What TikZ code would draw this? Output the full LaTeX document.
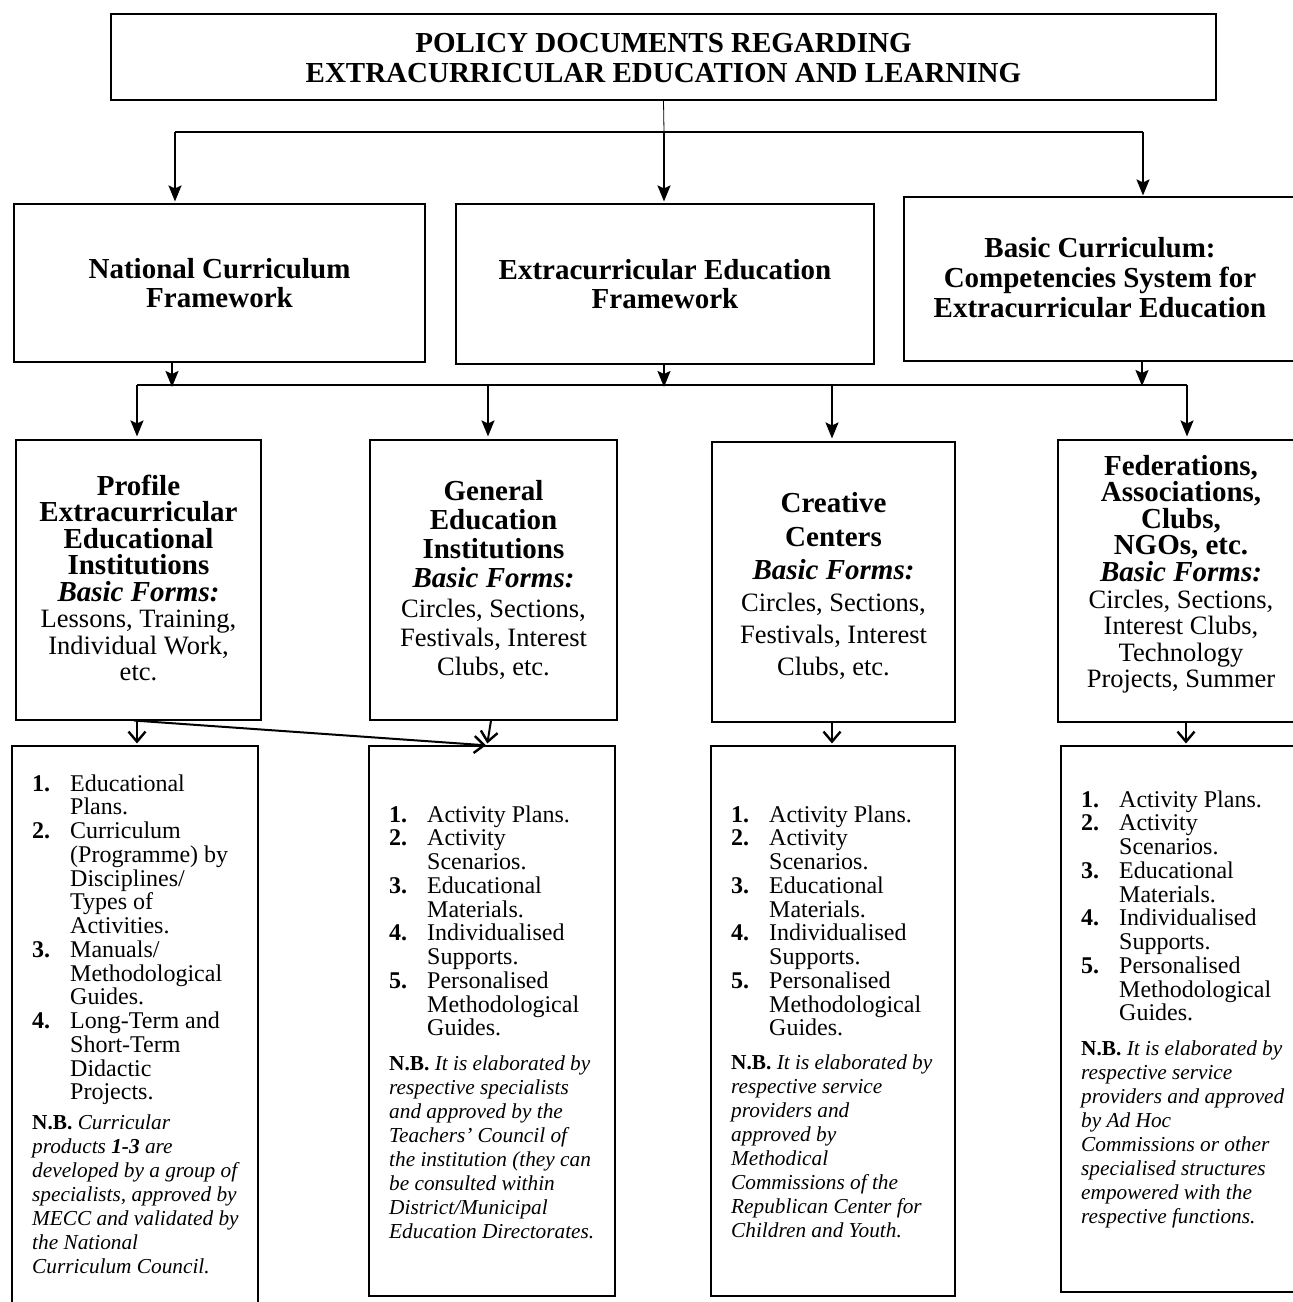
\documentclass[tikz,border=0pt]{standalone}
\usepackage{fontspec}
\setmainfont{Liberation Serif}
\usetikzlibrary{arrows.meta,calc}

% stacked lines: #1 baselineskip, #2 row font, #3 rows separated by \cr
\newcommand\LinesC[3]{\vtop{\baselineskip=#1\lineskiplimit=-1000pt\lineskip=0pt\halign{\hfil#2##\hfil\cr#3\crcr}}}
\newcommand\LinesL[3]{\vtop{\baselineskip=#1\lineskiplimit=-1000pt\lineskip=0pt\halign{#2##\hfil\cr#3\crcr}}}
\newcommand\fontHead{\fontsize{29}{29}\selectfont\bfseries}
\newcommand\fontBody{\fontsize{26.5}{26.5}\selectfont}
\newcommand\fontList{\fontsize{24}{24}\selectfont}
\newcommand\fontNote{\fontsize{21.3}{24}\selectfont\itshape}
\newcommand\itemnum[1]{\makebox[38pt][l]{\bfseries #1}}
\newcommand\itemind{\hskip38pt\relax}
\newcommand\nbmark{{\upshape\bfseries N.B.}}

\begin{document}
\begin{tikzpicture}[x=1pt,y=-1pt,
  boxst/.style={draw, line width=1.1pt, inner sep=0pt, rectangle},
  txt/.style={inner sep=0pt, anchor=base},
  txtl/.style={inner sep=0pt, anchor=base west},
  thinline/.style={line width=0.8pt},
  conn/.style={line width=1.9pt},
  arr/.style={line width=1.9pt, -{Stealth[length=16pt,width=13pt,inset=3pt]}},
  arrlow/.style={line width=2pt, -{Straight Barb[length=10pt,width=17pt,line width=2.4pt]}}]

\path[fill=white] (0,0) rectangle (1293,1302);
\useasboundingbox (0,0) rectangle (1293,1302);

% ---------- boxes ----------
\node[boxst, minimum width=1105pt, minimum height=86pt] (top) at (663.5,57) {};
\node[boxst, minimum width=411pt, minimum height=158pt] (ncf) at (219.5,283) {};
\node[boxst, minimum width=418pt, minimum height=160pt] (ecf) at (665,284) {};
\node[boxst, minimum width=392pt, minimum height=164pt] (bc) at (1100,279) {};

\node[boxst, minimum width=245pt, minimum height=280pt] (P) at (138.5,580) {};
\node[boxst, minimum width=247pt, minimum height=280pt] (G) at (493.5,580) {};
\node[boxst, minimum width=243pt, minimum height=280pt] (C) at (833.5,582) {};
\node[boxst, minimum width=248pt, minimum height=282pt] (F) at (1182,581) {};

\node[boxst, minimum width=246pt, minimum height=574pt] (L1) at (135,1033) {};
\node[boxst, minimum width=246pt, minimum height=550pt] (L2) at (492,1021) {};
\node[boxst, minimum width=244pt, minimum height=550pt] (L3) at (833,1021) {};
\node[boxst, minimum width=249pt, minimum height=546pt] (L4) at (1185.5,1019) {};

% ---------- texts ----------
\node[txt] (ttop) at (663.5,52) {\LinesC{30pt}{\fontHead}{POLICY DOCUMENTS REGARDING\cr EXTRACURRICULAR EDUCATION AND LEARNING}};

\node[txt] (tncf) at (219.5,278.5) {\LinesC{28.5pt}{\fontHead}{National Curriculum\cr Framework}};
\node[txt] (tecf) at (665,279.5) {\LinesC{28.5pt}{\fontHead}{Extracurricular Education\cr Framework}};
\node[txt] (tbc) at (1100,257.6) {\LinesC{30pt}{\fontHead}{Basic Curriculum:\cr Competencies System for\cr Extracurricular Education}};

\node[txt] (tP) at (138.5,495) {\LinesC{26.5pt}{}{%
\fontHead Profile\cr
\fontHead Extracurricular\cr
\fontHead Educational\cr
\fontHead Institutions\cr
\fontHead\itshape Basic Forms:\cr
\fontBody Lessons, Training,\cr
\fontBody Individual Work,\cr
\fontBody etc.}};

\node[txt] (tG) at (493.5,500) {\LinesC{29.3pt}{}{%
\fontHead General\cr
\fontHead Education\cr
\fontHead Institutions\cr
\fontHead\itshape Basic Forms:\cr
\fontBody Circles, Sections,\cr
\fontBody Festivals, Interest\cr
\fontBody Clubs, etc.}};

\node[txt] (tC) at (833.5,512) {\LinesC{32pt}{}{%
\fontHead Creative\cr\noalign{\vskip2pt}
\fontHead Centers\cr\noalign{\vskip1pt}
\fontHead\itshape Basic Forms:\cr
\fontBody Circles, Sections,\cr
\fontBody Festivals, Interest\cr
\fontBody Clubs, etc.}};

\node[txt] (tF) at (1181,475) {\LinesC{26.6pt}{}{%
\fontHead Federations,\cr
\fontHead Associations,\cr
\fontHead Clubs,\cr
\fontHead NGOs, etc.\cr
\fontHead\itshape Basic Forms:\cr
\fontBody Circles, Sections,\cr
\fontBody Interest Clubs,\cr
\fontBody Technology\cr
\fontBody Projects, Summer}};

% lists
\node[txtl] (tL1) at (32,791) {\LinesL{23.75pt}{\fontList}{%
\itemnum{1.}Educational\cr
\itemind Plans.\cr
\itemnum{2.}Curriculum\cr
\itemind (Programme) by\cr
\itemind Disciplines/\cr
\itemind Types of\cr
\itemind Activities.\cr
\itemnum{3.}Manuals/\cr
\itemind Methodological\cr
\itemind Guides.\cr
\itemnum{4.}Long-Term and\cr
\itemind Short-Term\cr
\itemind Didactic\cr
\itemind Projects.}};
\node[txtl] (nL1) at (32,1129) {\LinesL{24pt}{\fontNote}{%
\nbmark{} Curricular\cr
products {\bfseries 1-3} are\cr
developed by a group of\cr
specialists, approved by\cr
MECC and validated by\cr
the National\cr
Curriculum Council.}};

\node[txtl] (tL2) at (389,822) {\LinesL{23.75pt}{\fontList}{%
\itemnum{1.}Activity Plans.\cr
\itemnum{2.}Activity\cr
\itemind Scenarios.\cr
\itemnum{3.}Educational\cr
\itemind Materials.\cr
\itemnum{4.}Individualised\cr
\itemind Supports.\cr
\itemnum{5.}Personalised\cr
\itemind Methodological\cr
\itemind Guides.}};
\node[txtl] (nL2) at (389,1070) {\LinesL{24pt}{\fontNote}{%
\nbmark{} It is elaborated by\cr
respective specialists\cr
and approved by the\cr
Teachers' Council of\cr
the institution (they can\cr
be consulted within\cr
District/Municipal\cr
Education Directorates.}};

\node[txtl] (tL3) at (731,822) {\LinesL{23.75pt}{\fontList}{%
\itemnum{1.}Activity Plans.\cr
\itemnum{2.}Activity\cr
\itemind Scenarios.\cr
\itemnum{3.}Educational\cr
\itemind Materials.\cr
\itemnum{4.}Individualised\cr
\itemind Supports.\cr
\itemnum{5.}Personalised\cr
\itemind Methodological\cr
\itemind Guides.}};
\node[txtl] (nL3) at (731,1069) {\LinesL{24pt}{\fontNote}{%
\nbmark{} It is elaborated by\cr
respective service\cr
providers and\cr
approved by\cr
Methodical\cr
Commissions of the\cr
Republican Center for\cr
Children and Youth.}};

\node[txtl] (tL4) at (1081,807) {\LinesL{23.75pt}{\fontList}{%
\itemnum{1.}Activity Plans.\cr
\itemnum{2.}Activity\cr
\itemind Scenarios.\cr
\itemnum{3.}Educational\cr
\itemind Materials.\cr
\itemnum{4.}Individualised\cr
\itemind Supports.\cr
\itemnum{5.}Personalised\cr
\itemind Methodological\cr
\itemind Guides.}};
\node[txtl] (nL4) at (1081,1055) {\LinesL{24pt}{\fontNote}{%
\nbmark{} It is elaborated by\cr
respective service\cr
providers and approved\cr
by Ad Hoc\cr
Commissions or other\cr
specialised structures\cr
empowered with the\cr
respective functions.}};

% ---------- connectors ----------
\coordinate (b1l) at (175,132);
\coordinate (b1c) at (664,132);
\coordinate (b1r) at (1143,132);
\draw[thinline] (top.south) -- (b1c);
\draw[conn] (b1l) -- (b1r);
\draw[arr, shorten >=2pt] (b1l) -- (b1l |- ncf.north);
\draw[arr, shorten >=2pt] (b1c) -- (b1c |- ecf.north);
\draw[arr, shorten >=1pt] (b1r) -- (b1r |- bc.north);

\coordinate (b2a) at (172,387);
\coordinate (b2b) at (664,387);
\coordinate (b2c) at (1142,386);
\draw[arr] (b2a |- ncf.south) -- (b2a);
\draw[arr] (b2b |- ecf.south) -- (b2b);
\draw[arr] (b2c |- bc.south) -- (b2c);

\coordinate (b2l) at (137,385);
\coordinate (b2g) at (488,385);
\coordinate (b2k) at (832,385);
\coordinate (b2r) at (1187,385);
\draw[conn] (b2l) -- (b2r);
\draw[arr, shorten >=3pt] (b2l) -- (b2l |- P.north);
\draw[arr, shorten >=3pt] (b2g) -- (b2g |- G.north);
\draw[arr, shorten >=3pt] (b2k) -- (b2k |- C.north);
\draw[arr, shorten >=3pt] (b2r) -- (b2r |- F.north);

\draw[arrlow, shorten >=2pt] ([xshift=-1.5pt]P.south) -- ([xshift=-1.5pt]P.south |- L1.north);
\draw[arrlow, shorten >=2pt] ([xshift=-4.5pt]P.south) -- ([xshift=-4pt]L2.north);
\draw[arrlow, shorten >=2pt] ([xshift=-2.5pt]G.south) -- ([xshift=-5pt]L2.north);
\draw[arrlow, shorten >=2pt] ([xshift=-1.5pt]C.south) -- ([xshift=-1pt]L3.north);
\draw[arrlow, shorten >=2pt] ([xshift=4pt]F.south) -- ([xshift=0.5pt]L4.north);
\end{tikzpicture}
\end{document}
